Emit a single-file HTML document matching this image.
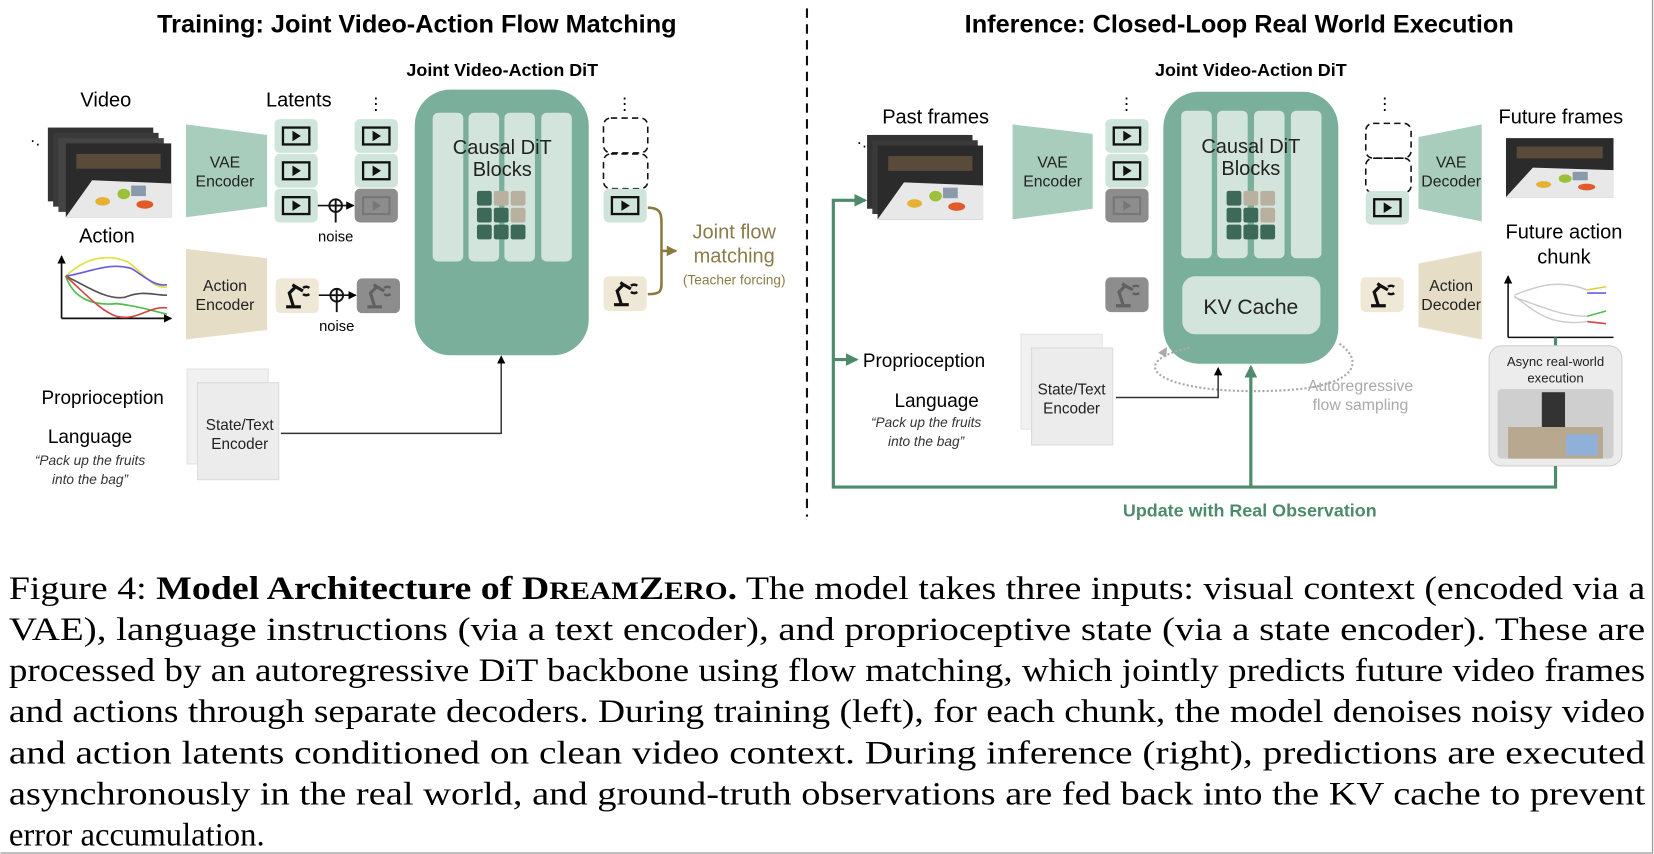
<!DOCTYPE html>
<html><head><meta charset="utf-8"><style>
html,body{margin:0;padding:0;background:#fff;}
svg{display:block;}
text{font-family:"Liberation Sans",sans-serif;}
.cap{font-family:"Liberation Serif",serif;font-size:31px;fill:#000;}
</style></head><body>
<svg width="1654" height="854" viewBox="0 0 1568 810" xmlns="http://www.w3.org/2000/svg">
<defs>
  <marker id="ab" markerWidth="8" markerHeight="8" refX="7" refY="4" orient="auto" markerUnits="userSpaceOnUse"><path d="M0,0 L8,4 L0,8z" fill="#000"/></marker>
  <marker id="ag" markerWidth="12" markerHeight="12" refX="10" refY="6" orient="auto" markerUnits="userSpaceOnUse"><path d="M0,0 L12,6 L0,12z" fill="#4e8a6c"/></marker>
  <marker id="ao" markerWidth="10" markerHeight="10" refX="9" refY="5" orient="auto" markerUnits="userSpaceOnUse"><path d="M0,0 L10,5 L0,10z" fill="#8a7a3f"/></marker>
  <marker id="agr" markerWidth="9" markerHeight="9" refX="8" refY="4.5" orient="auto" markerUnits="userSpaceOnUse"><path d="M0,0 L9,4.5 L0,9z" fill="#aaa"/></marker>
  <g id="lat"><rect x="0" y="0" width="41" height="32" rx="5" fill="#cfe4da"/><rect x="8" y="8" width="25" height="16" fill="none" stroke="#111" stroke-width="2.2"/><path d="M17,11 L25,16 L17,21z" fill="#111"/></g>
  <g id="nlat"><rect x="0" y="0" width="41" height="32" rx="5" fill="#8d8d8d"/><rect x="8" y="8" width="25" height="16" fill="none" stroke="#777" stroke-width="2"/><path d="M17,11 L25,16 L17,21z" fill="#777"/></g>
  <g id="robo"><path d="M10,27 h14 M17,27 L13,14 L19,8 L26,12 M19,8 L16,6" fill="none" stroke="#111" stroke-width="3"/><path d="M26,9 a5,5 0 0 1 6,0 M26,15 a5,5 0 0 0 6,0" fill="none" stroke="#111" stroke-width="2.4"/></g>
  <g id="act"><rect x="0" y="0" width="41" height="33" rx="5" fill="#efe8d6"/><use href="#robo"/></g>
  <g id="nact"><rect x="0" y="0" width="41" height="33" rx="5" fill="#8d8d8d"/><g opacity="0.35"><use href="#robo"/></g></g>
  <g id="frame"><rect width="100" height="70" fill="#2b2b2b"/><rect x="10" y="10" width="80" height="14" fill="#5a4a3a"/><path d="M0,70 L25,35 L100,38 L100,70z" fill="#e8e8e8"/><ellipse cx="35" cy="55" rx="7" ry="4" fill="#e6b030"/><ellipse cx="55" cy="48" rx="6" ry="5" fill="#9bc03a"/><ellipse cx="75" cy="58" rx="8" ry="4" fill="#e05a2a"/><rect x="62" y="40" width="14" height="10" fill="#8a9aaa"/></g>
  <g id="grid">
    <rect x="0" y="0" width="14" height="14" rx="2" fill="#3d6a58"/><rect x="16" y="0" width="14" height="14" rx="2" fill="#b9b09f"/><rect x="32" y="0" width="14" height="14" rx="2" fill="#b9b09f"/>
    <rect x="0" y="16" width="14" height="14" rx="2" fill="#3d6a58"/><rect x="16" y="16" width="14" height="14" rx="2" fill="#3d6a58"/><rect x="32" y="16" width="14" height="14" rx="2" fill="#b9b09f"/>
    <rect x="0" y="32" width="14" height="14" rx="2" fill="#3d6a58"/><rect x="16" y="32" width="14" height="14" rx="2" fill="#3d6a58"/><rect x="32" y="32" width="14" height="14" rx="2" fill="#3d6a58"/>
  </g>
  <g id="sheets"><rect x="0" y="0" width="77" height="90" fill="#f1f1f1" stroke="#e2e2e2"/><rect x="10" y="13" width="77" height="92" fill="#ececec" stroke="#dadada"/></g>
</defs>

<!-- titles -->
<text x="395" y="31" font-size="24" font-weight="bold" text-anchor="middle">Training: Joint Video-Action Flow Matching</text>
<text x="1175" y="31" font-size="24" font-weight="bold" text-anchor="middle">Inference: Closed-Loop Real World Execution</text>
<line x1="765" y1="8" x2="765" y2="490" stroke="#111" stroke-width="2" stroke-dasharray="9,6"/>

<!-- ===== LEFT ===== -->
<text x="476" y="72" font-size="17" font-weight="bold" text-anchor="middle">Joint Video-Action DiT</text>
<text x="100" y="101" font-size="19" text-anchor="middle">Video</text>
<text x="283" y="101" font-size="19" text-anchor="middle">Latents</text>
<text x="28" y="138" font-size="16">·.</text>
<g transform="translate(45,121)"><rect width="100" height="70" fill="#333"/></g>
<g transform="translate(50,126)"><rect width="100" height="70" fill="#3a3a3a"/></g>
<g transform="translate(55,131)"><rect width="100" height="70" fill="#444"/></g>
<g transform="translate(62,136)"><use href="#frame"/></g>
<polygon points="176,118 253,128 253,196 176,206" fill="#a9cdbd"/>
<text x="213" y="159" font-size="15" text-anchor="middle" fill="#222">VAE</text>
<text x="213" y="177" font-size="15" text-anchor="middle" fill="#222">Encoder</text>
<use href="#lat" x="260" y="113"/><use href="#lat" x="260" y="146"/><use href="#lat" x="260" y="179"/>
<use href="#lat" x="336" y="113"/><use href="#lat" x="336" y="146"/><use href="#nlat" x="336" y="179"/>
<text x="356" y="104" font-size="16" text-anchor="middle">⋮</text>
<line x1="301" y1="195" x2="335" y2="195" stroke="#111" stroke-width="1.6" marker-end="url(#ab)"/>
<circle cx="318" cy="195" r="6" fill="#fff" stroke="#111" stroke-width="1.8"/><path d="M312,195h12M318,189v22" stroke="#111" stroke-width="1.8"/>
<text x="318" y="229" font-size="14" text-anchor="middle">noise</text>
<text x="101" y="230" font-size="19" text-anchor="middle">Action</text>
<path d="M58,302 V243" stroke="#111" stroke-width="1.6" marker-end="url(#ab)"/><path d="M58,302 H162" stroke="#111" stroke-width="1.6" marker-end="url(#ab)"/>
<g fill="none" stroke-width="1.6">
<path d="M62,262 C80,245 100,240 120,248 C135,258 145,275 158,272" stroke="#e0e040"/>
<path d="M62,262 C85,258 105,248 125,255 C140,265 148,272 158,270" stroke="#6a5ae0"/>
<path d="M62,262 C80,270 100,285 118,282 C135,275 145,280 158,280" stroke="#555"/>
<path d="M62,262 C70,285 90,290 110,288 C130,290 145,295 158,298" stroke="#4cc04c"/>
<path d="M62,262 C80,278 95,295 110,300 C130,305 140,290 158,292" stroke="#d04848"/>
</g>
<polygon points="176,236 253,245 253,313 176,322" fill="#e6ddc6"/>
<text x="213" y="276" font-size="15" text-anchor="middle" fill="#222">Action</text>
<text x="213" y="294" font-size="15" text-anchor="middle" fill="#222">Encoder</text>
<use href="#act" x="261" y="264"/><use href="#nact" x="338" y="264"/>
<line x1="302" y1="280" x2="337" y2="280" stroke="#111" stroke-width="1.6" marker-end="url(#ab)"/>
<circle cx="319" cy="280" r="6" fill="#fff" stroke="#111" stroke-width="1.8"/><path d="M313,280h12M319,274v22" stroke="#111" stroke-width="1.8"/>
<text x="319" y="314" font-size="14" text-anchor="middle">noise</text>

<rect x="393" y="85" width="165" height="252" rx="34" fill="#7aaf9c"/>
<rect x="410" y="107" width="29" height="141" rx="5" fill="#d2e4dc"/><rect x="444" y="107" width="29" height="141" rx="5" fill="#d2e4dc"/><rect x="478" y="107" width="29" height="141" rx="5" fill="#d2e4dc"/><rect x="513" y="107" width="29" height="141" rx="5" fill="#d2e4dc"/>
<text x="476" y="146" font-size="19" text-anchor="middle" fill="#222">Causal DiT</text>
<text x="476" y="167" font-size="19" text-anchor="middle" fill="#222">Blocks</text>
<use href="#grid" x="452" y="181"/>

<text x="592" y="104" font-size="16" text-anchor="middle">⋮</text>
<rect x="572" y="112" width="42" height="33" rx="7" fill="none" stroke="#111" stroke-width="1.5" stroke-dasharray="6,4"/>
<rect x="572" y="146" width="42" height="33" rx="7" fill="none" stroke="#111" stroke-width="1.5" stroke-dasharray="6,4"/>
<use href="#lat" x="572" y="179"/><use href="#act" x="572" y="262"/>
<path d="M614,197 C628,197 627,205 627,215 V265 C627,275 628,279 614,279" fill="none" stroke="#8a7a3f" stroke-width="2.4"/>
<line x1="627" y1="238" x2="641" y2="238" stroke="#8a7a3f" stroke-width="2.4" marker-end="url(#ao)"/>
<text x="696" y="226" font-size="19" text-anchor="middle" fill="#8a7c4a">Joint flow</text>
<text x="696" y="249" font-size="19" text-anchor="middle" fill="#8a7c4a">matching</text>
<text x="696" y="270" font-size="13" text-anchor="middle" fill="#8a7c4a">(Teacher forcing)</text>

<text x="97" y="383" font-size="18" text-anchor="middle">Proprioception</text>
<text x="85" y="420" font-size="18" text-anchor="middle">Language</text>
<text x="85" y="441" font-size="13" font-style="italic" text-anchor="middle" fill="#333">“Pack up the fruits</text>
<text x="85" y="459" font-size="13" font-style="italic" text-anchor="middle" fill="#333">into the bag”</text>
<use href="#sheets" x="177" y="350"/>
<text x="227" y="408" font-size="14.5" text-anchor="middle" fill="#222">State/Text</text>
<text x="227" y="426" font-size="14.5" text-anchor="middle" fill="#222">Encoder</text>
<path d="M266,411 H475 V338" fill="none" stroke="#333" stroke-width="1.4" marker-end="url(#ab)"/>

<!-- ===== RIGHT ===== -->
<text x="1186" y="72" font-size="17" font-weight="bold" text-anchor="middle">Joint Video-Action DiT</text>
<text x="887" y="117" font-size="19" text-anchor="middle">Past frames</text>
<text x="812" y="140" font-size="16">·.</text>
<g transform="translate(822,128)"><rect width="100" height="70" fill="#333"/></g>
<g transform="translate(827,133)"><rect width="100" height="70" fill="#3a3a3a"/></g>
<g transform="translate(832,138)"><use href="#frame"/></g>
<polygon points="960,118 1036,127 1036,198 960,208" fill="#a9cdbd"/>
<text x="998" y="159" font-size="15" text-anchor="middle" fill="#222">VAE</text>
<text x="998" y="177" font-size="15" text-anchor="middle" fill="#222">Encoder</text>
<text x="1068" y="104" font-size="16" text-anchor="middle">⋮</text>
<use href="#lat" x="1048" y="113"/><use href="#lat" x="1048" y="146"/><use href="#nlat" x="1048" y="179"/>
<use href="#nact" x="1048" y="263"/>

<rect x="1103" y="87" width="166" height="258" rx="34" fill="#7aaf9c"/>
<rect x="1120" y="105" width="29" height="140" rx="5" fill="#d2e4dc"/><rect x="1154" y="105" width="29" height="140" rx="5" fill="#d2e4dc"/><rect x="1189" y="105" width="29" height="140" rx="5" fill="#d2e4dc"/><rect x="1224" y="105" width="29" height="140" rx="5" fill="#d2e4dc"/>
<text x="1186" y="145" font-size="19" text-anchor="middle" fill="#222">Causal DiT</text>
<text x="1186" y="166" font-size="19" text-anchor="middle" fill="#222">Blocks</text>
<use href="#grid" x="1163" y="181"/>
<rect x="1121" y="262" width="131" height="55" rx="12" fill="#d2e4dc"/>
<text x="1186" y="298" font-size="20" text-anchor="middle" fill="#222">KV Cache</text>

<path d="M1128,330 C1080,340 1085,360 1140,368 C1170,372 1210,372 1240,368 C1290,360 1290,340 1270,326" fill="none" stroke="#aaa" stroke-width="2" stroke-dasharray="2,2"/>
<path d="M1100,340 L1106,330" stroke="#aaa" stroke-width="0" marker-end="url(#agr)"/>
<text x="1290" y="371" font-size="15" text-anchor="middle" fill="#aaa">Autoregressive</text>
<text x="1290" y="389" font-size="15" text-anchor="middle" fill="#aaa">flow sampling</text>

<text x="1313" y="104" font-size="16" text-anchor="middle">⋮</text>
<rect x="1295" y="117" width="43" height="33" rx="7" fill="none" stroke="#111" stroke-width="1.5" stroke-dasharray="6,4"/>
<rect x="1295" y="150" width="43" height="33" rx="7" fill="none" stroke="#111" stroke-width="1.5" stroke-dasharray="6,4"/>
<use href="#lat" x="1295" y="181"/>
<use href="#act" x="1290" y="263"/>
<polygon points="1345,130 1405,118 1405,210 1345,198" fill="#a9cdbd"/>
<text x="1376" y="159" font-size="15" text-anchor="middle" fill="#222">VAE</text>
<text x="1376" y="177" font-size="15" text-anchor="middle" fill="#222">Decoder</text>
<polygon points="1345,250 1405,238 1405,322 1345,310" fill="#e6ddc6"/>
<text x="1376" y="276" font-size="15" text-anchor="middle" fill="#222">Action</text>
<text x="1376" y="294" font-size="15" text-anchor="middle" fill="#222">Decoder</text>
<text x="1480" y="117" font-size="19" text-anchor="middle">Future frames</text>
<g transform="translate(1428,131) scale(1.02,0.8)"><use href="#frame"/></g>
<text x="1483" y="226" font-size="19" text-anchor="middle">Future action</text>
<text x="1483" y="250" font-size="19" text-anchor="middle">chunk</text>
<path d="M1430,320 V262" stroke="#111" stroke-width="1.5" marker-end="url(#ab)"/><path d="M1430,320 H1530" stroke="#111" stroke-width="1.5"/>
<g fill="none" stroke="#ccc" stroke-width="1.4">
<path d="M1436,280 C1460,270 1480,265 1505,275"/><path d="M1436,282 C1460,290 1480,300 1505,300"/><path d="M1436,281 C1455,295 1470,310 1505,305"/>
</g>
<path d="M1505,275 l18,-3" stroke="#e0d040" stroke-width="1.5"/><path d="M1505,278 l18,0" stroke="#6a5ae0" stroke-width="1.5"/><path d="M1505,300 l18,-5" stroke="#4cc04c" stroke-width="1.5"/><path d="M1505,305 l18,2" stroke="#d04848" stroke-width="1.5"/>
<line x1="1475" y1="320" x2="1475" y2="328" stroke="#4e8a6c" stroke-width="3"/>
<rect x="1412" y="328" width="126" height="114" rx="12" fill="#ececec" stroke="#d0d0d0"/>
<text x="1475" y="347" font-size="12.5" text-anchor="middle" fill="#222">Async real-world</text>
<text x="1475" y="363" font-size="12.5" text-anchor="middle" fill="#222">execution</text>
<rect x="1420" y="369" width="110" height="66" rx="4" fill="#cfcfcf"/>
<rect x="1462" y="372" width="22" height="40" fill="#333"/><rect x="1430" y="405" width="90" height="30" fill="#b9a890"/><rect x="1485" y="412" width="30" height="20" fill="#8fb0d8"/>

<text x="818" y="348" font-size="18">Proprioception</text>
<text x="888" y="386" font-size="18" text-anchor="middle">Language</text>
<text x="878" y="405" font-size="13" font-style="italic" text-anchor="middle" fill="#333">“Pack up the fruits</text>
<text x="878" y="423" font-size="13" font-style="italic" text-anchor="middle" fill="#333">into the bag”</text>
<use href="#sheets" x="968" y="317"/>
<text x="1016" y="374" font-size="14.5" text-anchor="middle" fill="#222">State/Text</text>
<text x="1016" y="392" font-size="14.5" text-anchor="middle" fill="#222">Encoder</text>
<path d="M1058,377 H1155 V349" fill="none" stroke="#333" stroke-width="1.4" marker-end="url(#ab)"/>

<path d="M1475,442 V462 H790 V190 H820" fill="none" stroke="#4e8a6c" stroke-width="3" marker-end="url(#ag)"/>
<path d="M790,341 H812" fill="none" stroke="#4e8a6c" stroke-width="3" marker-end="url(#ag)"/>
<path d="M1186,462 V348" fill="none" stroke="#4e8a6c" stroke-width="3" marker-end="url(#ag)"/>
<text x="1185" y="490" font-size="17" font-weight="bold" text-anchor="middle" fill="#4e8a6c">Update with Real Observation</text>

<!-- caption -->
<text class="cap" x="8" y="568" textLength="1552" lengthAdjust="spacingAndGlyphs">Figure 4: <tspan font-weight="bold">Model Architecture of D<tspan font-size="24">REAM</tspan>Z<tspan font-size="24">ERO</tspan>.</tspan> The model takes three inputs: visual context (encoded via a</text>
<text class="cap" x="8" y="607" textLength="1552" lengthAdjust="spacingAndGlyphs">VAE), language instructions (via a text encoder), and proprioceptive state (via a state encoder). These are</text>
<text class="cap" x="8" y="646" textLength="1552" lengthAdjust="spacingAndGlyphs">processed by an autoregressive DiT backbone using flow matching, which jointly predicts future video frames</text>
<text class="cap" x="8" y="685" textLength="1552" lengthAdjust="spacingAndGlyphs">and actions through separate decoders. During training (left), for each chunk, the model denoises noisy video</text>
<text class="cap" x="8" y="724" textLength="1552" lengthAdjust="spacingAndGlyphs">and action latents conditioned on clean video context. During inference (right), predictions are executed</text>
<text class="cap" x="8" y="763" textLength="1552" lengthAdjust="spacingAndGlyphs">asynchronously in the real world, and ground-truth observations are fed back into the KV cache to prevent</text>
<text class="cap" x="8" y="802">error accumulation.</text>
<path d="M1567,0 V809 H0" fill="none" stroke="#999" stroke-width="1.2"/>
</svg>
</body></html>
